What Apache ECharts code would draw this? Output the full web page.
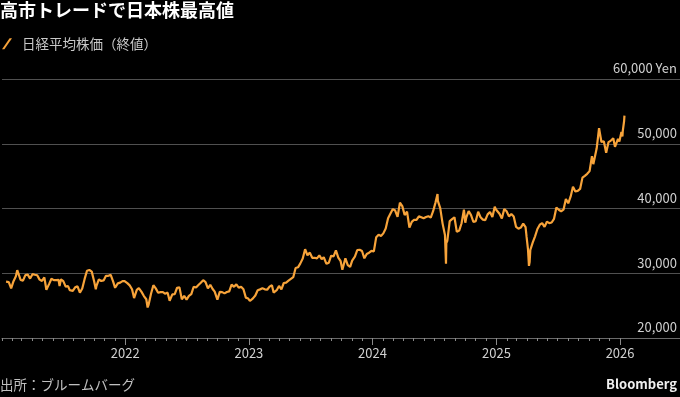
<!DOCTYPE html>
<html>
<head>
<meta charset="utf-8">
<script src="https://cdn.jsdelivr.net/npm/echarts@6/dist/echarts.min.js"></script>
<style>
html, body { margin: 0; padding: 0; background: #000; }
#chart { width: 680px; height: 397px; }
</style>
</head>
<body>
<div id="chart"></div>
<script>
// 日経平均株価（終値）, weekly closes (plus a few turning points)
const nikkei2021 = [
  ['2021-01-14', 28698], ['2021-01-22', 28631], ['2021-01-29', 27663], ['2021-02-05', 28779],
  ['2021-02-12', 29520], ['2021-02-16', 30468], ['2021-02-19', 30018], ['2021-02-26', 28966],
  ['2021-03-05', 28864], ['2021-03-12', 29717], ['2021-03-19', 29792], ['2021-03-26', 29176],
  ['2021-04-02', 29854], ['2021-04-09', 29768], ['2021-04-16', 29683], ['2021-04-23', 29020],
  ['2021-04-30', 28812], ['2021-05-07', 29357], ['2021-05-13', 27448], ['2021-05-21', 28317],
  ['2021-05-28', 29149], ['2021-06-04', 28941], ['2021-06-11', 28948], ['2021-06-18', 28964],
  ['2021-06-21', 28010], ['2021-06-25', 29066], ['2021-07-02', 28783], ['2021-07-09', 27940],
  ['2021-07-16', 28003], ['2021-07-21', 27388], ['2021-07-30', 27283], ['2021-08-06', 27820],
  ['2021-08-13', 27977], ['2021-08-20', 27013], ['2021-08-27', 27641], ['2021-09-03', 29128],
  ['2021-09-10', 30381], ['2021-09-14', 30670], ['2021-09-17', 30500], ['2021-09-24', 30249],
  ['2021-10-01', 28771], ['2021-10-06', 27528], ['2021-10-08', 28049], ['2021-10-15', 29069],
  ['2021-10-22', 28805], ['2021-10-29', 28893], ['2021-11-05', 29612], ['2021-11-12', 29610],
  ['2021-11-19', 29746], ['2021-11-26', 28752], ['2021-12-02', 27753], ['2021-12-10', 28437],
  ['2021-12-17', 28546], ['2021-12-24', 28782], ['2021-12-30', 28792]
];
const nikkei2022 = [
  ['2022-01-07', 28479], ['2022-01-14', 28124], ['2022-01-21', 27522], ['2022-01-27', 26170],
  ['2022-02-04', 27440], ['2022-02-10', 27696], ['2022-02-18', 27122], ['2022-02-25', 26476],
  ['2022-03-04', 25985], ['2022-03-08', 24717], ['2022-03-11', 25163], ['2022-03-18', 26827],
  ['2022-03-25', 28149], ['2022-04-01', 27666], ['2022-04-08', 26985], ['2022-04-15', 27093],
  ['2022-04-22', 27105], ['2022-04-28', 26848], ['2022-05-06', 27003], ['2022-05-12', 25748],
  ['2022-05-20', 26739], ['2022-05-27', 26781], ['2022-06-03', 27762], ['2022-06-10', 27824],
  ['2022-06-17', 25963], ['2022-06-24', 26491], ['2022-07-01', 25935], ['2022-07-08', 26517],
  ['2022-07-15', 26788], ['2022-07-22', 27915], ['2022-07-29', 27801], ['2022-08-05', 28176],
  ['2022-08-12', 28546], ['2022-08-19', 28930], ['2022-08-26', 28641], ['2022-09-02', 27650],
  ['2022-09-09', 28214], ['2022-09-16', 27567], ['2022-09-22', 27153], ['2022-09-30', 25937],
  ['2022-10-07', 27116], ['2022-10-14', 27090], ['2022-10-21', 26890], ['2022-10-28', 27105],
  ['2022-11-04', 27199], ['2022-11-11', 28263], ['2022-11-18', 27899], ['2022-11-25', 28283],
  ['2022-12-02', 27777], ['2022-12-09', 27901], ['2022-12-16', 27527], ['2022-12-23', 26235],
  ['2022-12-30', 26094]
];
const nikkei2023 = [
  ['2023-01-04', 25717], ['2023-01-13', 26119], ['2023-01-20', 26553], ['2023-01-27', 27382],
  ['2023-02-03', 27509], ['2023-02-10', 27670], ['2023-02-17', 27513], ['2023-02-24', 27453],
  ['2023-03-03', 27927], ['2023-03-10', 28143], ['2023-03-15', 27010], ['2023-03-24', 27385],
  ['2023-03-31', 28041], ['2023-04-07', 27518], ['2023-04-14', 28493], ['2023-04-21', 28564],
  ['2023-04-28', 28856], ['2023-05-02', 29123], ['2023-05-12', 29388], ['2023-05-19', 30808],
  ['2023-05-26', 30916], ['2023-06-02', 31524], ['2023-06-09', 32265], ['2023-06-16', 33706],
  ['2023-06-23', 32781], ['2023-06-30', 33189], ['2023-07-07', 32388], ['2023-07-14', 32391],
  ['2023-07-21', 32304], ['2023-07-28', 32759], ['2023-08-04', 32192], ['2023-08-10', 32473],
  ['2023-08-18', 31450], ['2023-08-25', 31624], ['2023-09-01', 32710], ['2023-09-08', 32606],
  ['2023-09-15', 33533], ['2023-09-22', 32402], ['2023-09-29', 31857], ['2023-10-04', 30526],
  ['2023-10-13', 32315], ['2023-10-20', 31259], ['2023-10-27', 30991], ['2023-11-02', 31950],
  ['2023-11-10', 32568], ['2023-11-17', 33585], ['2023-11-24', 33625], ['2023-12-01', 33431],
  ['2023-12-08', 32307], ['2023-12-15', 32970], ['2023-12-22', 33169], ['2023-12-29', 33464]
];
const nikkei2024 = [
  ['2024-01-05', 33377], ['2024-01-12', 35577], ['2024-01-19', 35963], ['2024-01-26', 35751],
  ['2024-02-02', 36158], ['2024-02-09', 36897], ['2024-02-16', 38487], ['2024-02-22', 39098],
  ['2024-03-01', 39910], ['2024-03-08', 39688], ['2024-03-15', 38707], ['2024-03-22', 40888],
  ['2024-03-29', 40369], ['2024-04-05', 38992], ['2024-04-12', 39523], ['2024-04-19', 37068],
  ['2024-04-26', 37934], ['2024-05-02', 38236], ['2024-05-10', 38229], ['2024-05-17', 38787],
  ['2024-05-24', 38646], ['2024-05-31', 38487], ['2024-06-07', 38683], ['2024-06-14', 38814],
  ['2024-06-21', 38596], ['2024-06-28', 39583], ['2024-07-05', 40912], ['2024-07-11', 42224],
  ['2024-07-12', 41190], ['2024-07-19', 40063], ['2024-07-26', 37667], ['2024-08-02', 35909],
  ['2024-08-05', 31458], ['2024-08-06', 34675], ['2024-08-09', 35025], ['2024-08-16', 38062],
  ['2024-08-23', 38364], ['2024-08-30', 38648], ['2024-09-06', 36391], ['2024-09-13', 36581],
  ['2024-09-20', 37724], ['2024-09-27', 39830], ['2024-10-01', 37809], ['2024-10-04', 38636],
  ['2024-10-11', 39605], ['2024-10-18', 38982], ['2024-10-25', 37914], ['2024-11-01', 38054],
  ['2024-11-08', 39500], ['2024-11-15', 38643], ['2024-11-22', 38284], ['2024-11-29', 38208],
  ['2024-12-06', 39091], ['2024-12-13', 39470], ['2024-12-20', 38701], ['2024-12-27', 40281],
  ['2024-12-30', 39895]
];
const nikkei2025 = [
  ['2025-01-10', 39190], ['2025-01-17', 38451], ['2025-01-24', 39931], ['2025-01-31', 39572],
  ['2025-02-07', 38787], ['2025-02-14', 39149], ['2025-02-21', 38776], ['2025-02-28', 37155],
  ['2025-03-07', 36887], ['2025-03-14', 37053], ['2025-03-21', 37677], ['2025-03-28', 37120],
  ['2025-03-31', 35617], ['2025-04-04', 33780], ['2025-04-07', 31136], ['2025-04-09', 31714],
  ['2025-04-11', 33586], ['2025-04-18', 34730], ['2025-04-25', 35705], ['2025-05-02', 36831],
  ['2025-05-09', 37503], ['2025-05-16', 37753], ['2025-05-23', 37160], ['2025-05-30', 37965],
  ['2025-06-06', 37741], ['2025-06-13', 37834], ['2025-06-20', 38403], ['2025-06-27', 40150],
  ['2025-07-04', 39811], ['2025-07-11', 39570], ['2025-07-18', 39819], ['2025-07-25', 41456],
  ['2025-08-01', 40800], ['2025-08-08', 41820], ['2025-08-15', 43378], ['2025-08-22', 42633],
  ['2025-08-29', 42718], ['2025-09-05', 43018], ['2025-09-12', 44768], ['2025-09-19', 45045],
  ['2025-09-26', 45355], ['2025-10-03', 45769], ['2025-10-10', 48088], ['2025-10-14', 46847],
  ['2025-10-17', 47582], ['2025-10-24', 49299], ['2025-10-31', 52411], ['2025-11-07', 50276],
  ['2025-11-14', 50376], ['2025-11-21', 48625], ['2025-11-28', 50253], ['2025-12-05', 50491],
  ['2025-12-12', 50836], ['2025-12-17', 49512], ['2025-12-19', 49507], ['2025-12-26', 50750],
  ['2025-12-30', 50339]
];
const nikkei2026 = [
  ['2026-01-05', 51832], ['2026-01-08', 51117], ['2026-01-09', 51940], ['2026-01-13', 53549],
  ['2026-01-14', 54341]
];

const seriesName = '日経平均株価（終値）';
const yTicks = [20000, 30000, 40000, 50000, 60000];

const nikkei = [].concat(nikkei2021, nikkei2022, nikkei2023, nikkei2024, nikkei2025, nikkei2026);

const FONT = "'Noto Sans CJK JP', 'Noto Sans', sans-serif";
const DAY = 24 * 3600 * 1000;
const xMin = '2021-01-02';
const xMax = '2026-06-27';

const chart = echarts.init(document.getElementById('chart'));

chart.setOption({
  backgroundColor: '#000',
  animation: false,
  textStyle: { fontFamily: FONT },
  title: {
    text: '高市トレードで日本株最高値',
    left: 0,
    top: 1,
    padding: 0,
    textStyle: { color: '#fff', fontSize: 18, fontWeight: 'bold', fontFamily: FONT }
  },
  legend: {
    left: 2,
    top: 37,
    padding: 0,
    itemWidth: 10,
    itemHeight: 11,
    icon: 'path://M0,11 L2.4,11 L10,0 L7.6,0 Z',
    textStyle: { color: '#c8c8c8', fontSize: 13.5, fontFamily: FONT, padding: [0, 0, 0, 5] },
    data: [seriesName]
  },
  grid: [
    { left: 2, right: 0, top: 79, bottom: 59, outerBoundsMode: 'none' },
    { left: 2, right: 60, top: 79, bottom: 59, outerBoundsMode: 'none' }
  ],
  xAxis: [
    {
      type: 'time',
      gridIndex: 0,
      min: xMin,
      max: xMax,
      minInterval: 365 * DAY,
      maxInterval: 366 * DAY,
      axisLine: { show: true, lineStyle: { color: '#6a6a6a', width: 1 } },
      axisTick: { show: true, length: 7, lineStyle: { color: '#8a8a8a' } },
      splitLine: { show: false },
      axisLabel: {
        color: '#d0d0d0',
        fontSize: 13,
        margin: 9,
        showMinLabel: false,
        showMaxLabel: false,
        formatter: (v) => String(new Date(v).getFullYear())
      }
    },
    {
      // monthly ticks, stop at Jan 2026
      type: 'time',
      gridIndex: 1,
      min: xMin,
      max: '2026-01-01',
      minInterval: 28 * DAY,
      maxInterval: 31 * DAY,
      axisLine: { show: false },
      axisTick: { show: true, length: 3, lineStyle: { color: '#8a8a8a' } },
      splitLine: { show: false },
      axisLabel: { show: false }
    }
  ],
  yAxis: [
    {
      type: 'value',
      gridIndex: 0,
      position: 'right',
      min: yTicks[0],
      max: yTicks[yTicks.length - 1],
      interval: 10000,
      axisLine: { show: false },
      axisTick: { show: false },
      splitLine: { show: true, lineStyle: { color: '#505050', width: 1.2 } },
      axisLabel: {
        inside: true,
        margin: 3,
        color: '#d0d0d0',
        fontSize: 13,
        verticalAlign: 'bottom',
        padding: [0, 0, 4, 0],
        showMinLabel: true,
        showMaxLabel: true,
        formatter: (v) => (v === 60000 ? '60,000 Yen' : v.toLocaleString('en-US'))
      }
    },
    { type: 'value', gridIndex: 1, min: 0, max: 1, show: false }
  ],
  series: [
    {
      name: seriesName,
      type: 'line',
      xAxisIndex: 0,
      yAxisIndex: 0,
      data: nikkei,
      showSymbol: false,
      symbol: 'none',
      itemStyle: { color: '#f7a33a' },
      lineStyle: { color: '#f7a33a', width: 2.2 }
    }
  ],
  graphic: [
    {
      type: 'text',
      left: 0,
      top: 378,
      style: { text: '出所：ブルームバーグ', fill: '#c0c0c0', font: '13.5px ' + FONT }
    },
    {
      type: 'text',
      right: 3,
      top: 378,
      style: { text: 'Bloomberg', fill: '#f0f0f0', font: 'bold 13px ' + FONT }
    }
  ]
});
</script>
</body>
</html>
